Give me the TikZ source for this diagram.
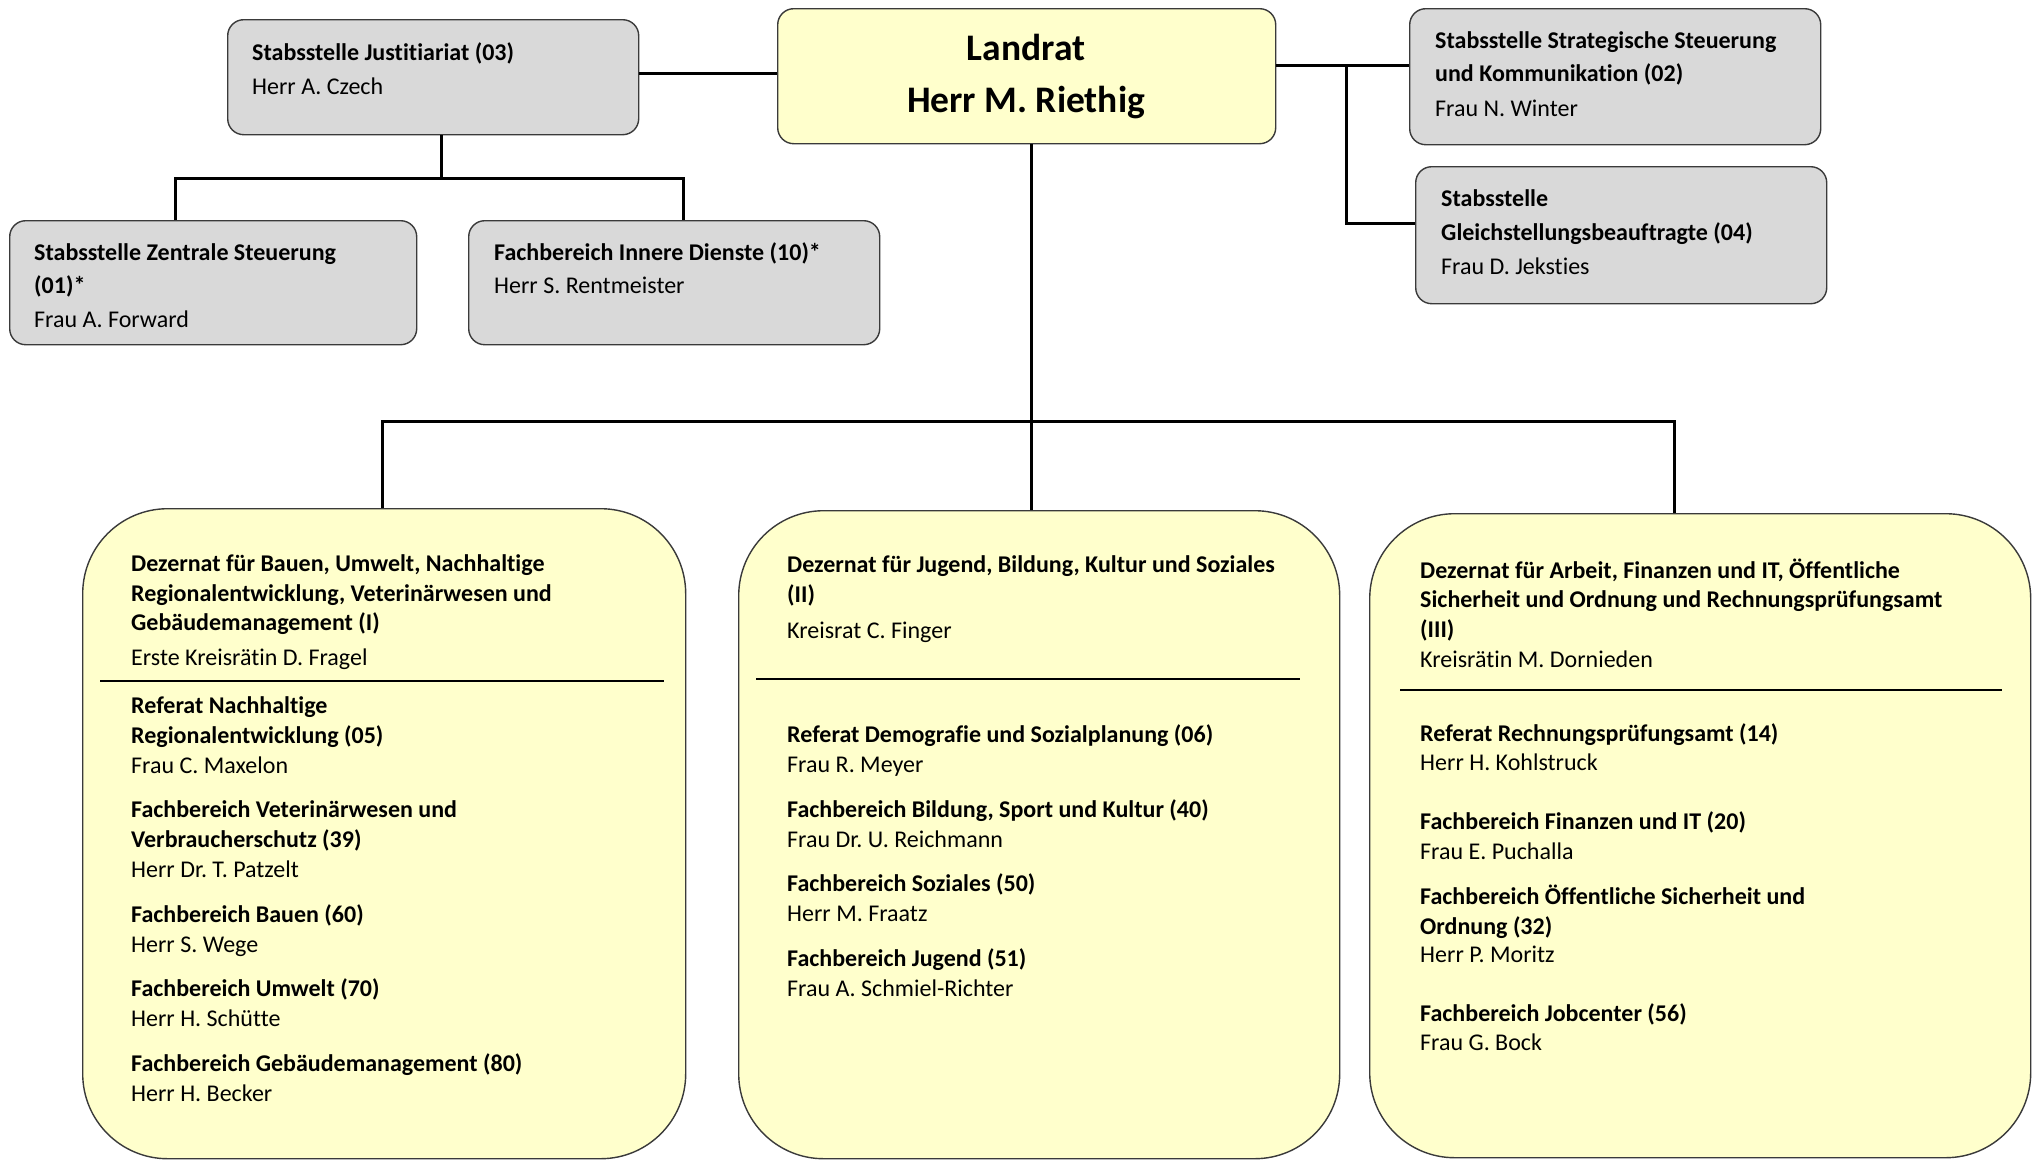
\documentclass[tikz,border=0pt]{standalone}
\usepackage{fontspec}
\setmainfont{Carlito}[Ligatures=NoCommon]
\frenchspacing
\definecolor{yel}{HTML}{FFFFCC}
\definecolor{gry}{HTML}{D9D9D9}
\definecolor{bord}{HTML}{3A3A3A}
\begin{document}
\begin{tikzpicture}[x=1pt,y=-1pt,
  graybox/.style={draw=bord, line width=1.4pt, fill=gry, rounded corners=16pt, inner sep=0pt, anchor=north west},
  yelbox/.style={draw=bord, line width=1.4pt, fill=yel, rounded corners=16pt, inner sep=0pt, anchor=north west},
  bigbox/.style={draw=bord, line width=1.4pt, fill=yel, rounded corners=85pt, inner sep=0pt, anchor=north west},
  conn/.style={line width=3pt, black},
  sep/.style={line width=2pt, black},
  tr/.style={anchor=base west, inner sep=0pt, font=\fontsize{24}{28}\selectfont},
  tb/.style={anchor=base west, inner sep=0pt, font=\bfseries\fontsize{24}{28}\selectfont},
  tl/.style={anchor=base, inner sep=0pt, font=\bfseries\fontsize{37.5}{44}\selectfont}]
\useasboundingbox (0,0) rectangle (2033,1160);
\fill[white] (0,0) rectangle (2033,1160);

% boxes
\node[yelbox, minimum width=498pt, minimum height=135pt] (landrat) at (777,8) {};
\node[graybox, minimum width=411pt, minimum height=115pt] (just) at (227,19) {};
\node[graybox, minimum width=411pt, minimum height=136pt] (strat) at (1409,8) {};
\node[graybox, minimum width=411pt, minimum height=137pt] (gleich) at (1415,166) {};
\node[graybox, minimum width=407pt, minimum height=124pt] (zentral) at (9,220) {};
\node[graybox, minimum width=411pt, minimum height=124pt] (innere) at (468,220) {};
\node[bigbox, minimum width=603pt, minimum height=650pt] (dez1) at (82,508) {};
\node[bigbox, minimum width=601pt, minimum height=648pt] (dez2) at (738,510) {};
\node[bigbox, minimum width=661pt, minimum height=644pt] (dez3) at (1369,513) {};

% connectors
\coordinate (jl) at (700,73);
\draw[conn] (just.east |- jl) -- (landrat.west |- jl);
\coordinate (jb) at (441,178);
\draw[conn] (jb |- just.south) -- (jb);
\coordinate (jz) at (175,178);
\coordinate (ji) at (683,178);
\draw[conn] (zentral.north -| jz) -- (jz) -- (ji) -- (innere.north -| ji);
\coordinate (rj) at (1346,65);
\coordinate (rg) at (1346,223);
\draw[conn] (landrat.east |- rj) -- (rj) -- (strat.west |- rj);
\draw[conn] (rj) -- (rg) -- (gleich.west |- rg);
\coordinate (lb) at (1031,421);
\coordinate (b1) at (382,421);
\coordinate (b3) at (1674,421);
\draw[conn] (lb |- landrat.south) -- (lb) -- (lb |- dez2.north);
\draw[conn] (dez1.north -| b1) -- (b1) -- (b3) -- (dez3.north -| b3);

% Landrat
\node[tl] (l1) at (1026,60) {Landrat};
\node[tl] (l2) at (1026,112) {Herr M. Riethig};

% Justitiariat
\node[tb] (j1) at (252,60) {Stabsstelle Justitiariat (03)};
\node[tr] (j2) at (252,94) {Herr A. Czech};

% Zentrale
\node[tb] (z1) at (34,260) {Stabsstelle Zentrale Steuerung};
\node[tb] (z2) at (34,293) {(01)*};
\node[tr] (z3) at (34,327) {Frau A. Forward};

% Innere
\node[tb] (i1) at (494,260) {Fachbereich Innere Dienste (10)*};
\node[tr] (i2) at (494,293) {Herr S. Rentmeister};

% Strategische
\node[tb] (s1) at (1435,48) {Stabsstelle Strategische Steuerung};
\node[tb] (s2) at (1435,81) {und Kommunikation (02)};
\node[tr] (s3) at (1435,116) {Frau N. Winter};

% Gleichstellung
\node[tb] (g1) at (1441,206) {Stabsstelle};
\node[tb] (g2) at (1441,240) {Gleichstellungsbeauftragte (04)};
\node[tr] (g3) at (1441,274) {Frau D. Jeksties};

% Dezernat I
\node[tb] (a1) at (131,571) {Dezernat für Bauen, Umwelt, Nachhaltige};
\node[tb] (a2) at (131,601) {Regionalentwicklung, Veterinärwesen und};
\node[tb] (a3) at (131,630) {Gebäudemanagement (I)};
\node[tr] (a4) at (131,665) {Erste Kreisrätin D. Fragel};
\coordinate (a5l) at (100,681); \coordinate (a5r) at (664,681);
\draw[sep] (a5l) -- (a5r);
\node[tb] (a6) at (131,713) {Referat Nachhaltige};
\node[tb] (a7) at (131,743) {Regionalentwicklung (05)};
\node[tr] (a8) at (131,773) {Frau C. Maxelon};
\node[tb] (a9) at (131,817) {Fachbereich Veterinärwesen und};
\node[tb] (a10) at (131,847) {Verbraucherschutz (39)};
\node[tr] (a11) at (131,877) {Herr Dr. T. Patzelt};
\node[tb] (a12) at (131,922) {Fachbereich Bauen (60)};
\node[tr] (a13) at (131,952) {Herr S. Wege};
\node[tb] (a14) at (131,996) {Fachbereich Umwelt (70)};
\node[tr] (a15) at (131,1026) {Herr H. Schütte};
\node[tb] (a16) at (131,1071) {Fachbereich Gebäudemanagement (80)};
\node[tr] (a17) at (131,1101) {Herr H. Becker};

% Dezernat II
\node[tb] (b1t) at (787,572) {Dezernat für Jugend, Bildung, Kultur und Soziales};
\node[tb] (b2t) at (787,602) {(II)};
\node[tr] (b3t) at (787,638) {Kreisrat C. Finger};
\coordinate (b4l) at (756,679); \coordinate (b4r) at (1300,679);
\draw[sep] (b4l) -- (b4r);
\node[tb] (b5t) at (787,742) {Referat Demografie und Sozialplanung (06)};
\node[tr] (b6t) at (787,772) {Frau R. Meyer};
\node[tb] (b7t) at (787,817) {Fachbereich Bildung, Sport und Kultur (40)};
\node[tr] (b8t) at (787,847) {Frau Dr. U. Reichmann};
\node[tb] (b9t) at (787,891) {Fachbereich Soziales (50)};
\node[tr] (b10t) at (787,921) {Herr M. Fraatz};
\node[tb] (b11t) at (787,966) {Fachbereich Jugend (51)};
\node[tr] (b12t) at (787,996) {Frau A. Schmiel-Richter};

% Dezernat III
\node[tb] (c1) at (1420,578) {Dezernat für Arbeit, Finanzen und IT, Öffentliche};
\node[tb] (c2) at (1420,607) {Sicherheit und Ordnung und Rechnungsprüfungsamt};
\node[tb] (c3) at (1420,637) {(III)};
\node[tr] (c4) at (1420,667) {Kreisrätin M. Dornieden};
\coordinate (c5l) at (1400,690); \coordinate (c5r) at (2002,690);
\draw[sep] (c5l) -- (c5r);
\node[tb] (c6) at (1420,741) {Referat Rechnungsprüfungsamt (14)};
\node[tr] (c7) at (1420,770) {Herr H. Kohlstruck};
\node[tb] (c8) at (1420,829) {Fachbereich Finanzen und IT (20)};
\node[tr] (c9) at (1420,859) {Frau E. Puchalla};
\node[tb] (c10) at (1420,904) {Fachbereich Öffentliche Sicherheit und};
\node[tb] (c11) at (1420,934) {Ordnung (32)};
\node[tr] (c12) at (1420,962) {Herr P. Moritz};
\node[tb] (c13) at (1420,1021) {Fachbereich Jobcenter (56)};
\node[tr] (c14) at (1420,1050) {Frau G. Bock};
\end{tikzpicture}
\end{document}
